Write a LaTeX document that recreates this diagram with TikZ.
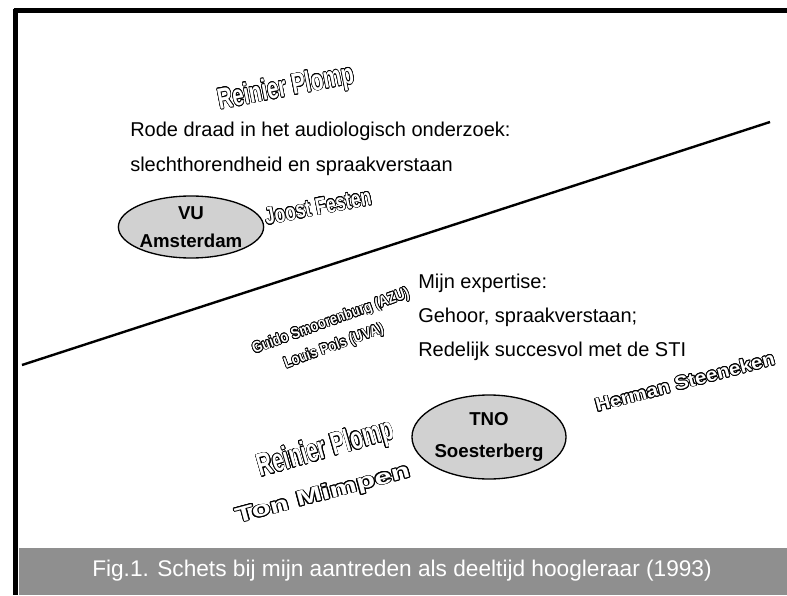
\documentclass[tikz,border=0pt]{standalone}
\usepackage{fontspec}
\setmainfont{Liberation Sans}
\usepackage{graphicx}
\usepackage[copies]{contour}
\contourlength{0.6pt}
\usetikzlibrary{shapes.geometric}

\definecolor{ellgrey}{gray}{0.82}
\definecolor{bargrey}{gray}{0.56}

\newcommand{\who}[2]{\scalebox{#1}[1]{\contour{black}{#2}}}

\tikzset{
  person/.style={text=white, inner sep=0pt},
  txt/.style={anchor=west, inner sep=0pt, font=\fontsize{15}{18}\selectfont},
  uni/.style={ellipse, draw, line width=1pt, fill=ellgrey, align=center,
    inner sep=0pt, font=\bfseries\fontsize{14}{21}\selectfont},
}

\begin{document}
\begin{tikzpicture}[x=0.75pt, y=-0.75pt]
  \useasboundingbox (0,0) rectangle (787,595);
  % frame and caption bar
  \fill[bargrey] (19,548) rectangle (787,595);
  \draw[line width=3.75pt] (15.5,8.6) -- (15.5,595);
  \draw[line width=3.75pt] (13.6,10.5) -- (787,10.5);
  \node[text=white, font=\fontsize{17}{20}\selectfont] (caption) at (402,571)
    {Fig.1. Schets bij mijn aantreden als deeltijd hoogleraar (1993)};

  % the dividing line
  \coordinate (lineL) at (22,365);
  \coordinate (lineR) at (770,122);
  \draw[line width=1.8pt] (lineL) -- (lineR);

  % upper part
  \node[person, rotate=11, font=\bfseries\fontsize{22}{24}\selectfont] (plompTop) at (286,89) {\who{0.7}{Reinier Plomp}};
  \node[txt] (rodeDraad) at (130,131) {Rode draad in het audiologisch onderzoek:};
  \node[txt] (slecht) at (130,166) {slechthorendheid en spraakverstaan};
  \node[uni, minimum width=107pt, minimum height=46.5pt] (vu) at (191,227) {VU\\Amsterdam};
  \node[person, rotate=11, font=\bfseries\fontsize{18}{20}\selectfont] (festen) at (318,207) {\who{0.73}{Joost Festen}};

  % expertise
  \node[txt] (expertise) at (418,283) {Mijn expertise:};
  \node[txt] (gehoor) at (418,317) {Gehoor, spraakverstaan;};
  \node[txt] (redelijk) at (418,351) {Redelijk succesvol met de STI};
  \node[person, rotate=20, font=\bfseries\fontsize{11.5}{13}\selectfont] (guido) at (331,322) {\who{0.85}{Guido Smoorenburg (AZU)}};
  \node[person, rotate=20, font=\bfseries\fontsize{11.5}{13}\selectfont] (pols) at (334,347) {\who{0.85}{Louis Pols (UVA)}};

  % lower part
  \node[uni, minimum width=108pt, minimum height=63pt] (tno) at (489,437) {TNO\\[3pt]Soesterberg};
  \node[person, rotate=16, font=\bfseries\fontsize{24}{26}\selectfont] (plompLow) at (326,450) {\who{0.65}{Reinier Plomp}};
  \node[person, rotate=15, font=\bfseries\fontsize{16}{18}\selectfont] (mimpen) at (323,495) {\who{1.45}{Ton Mimpen}};
  \node[person, rotate=15, font=\bfseries\fontsize{14}{16}\selectfont] (steeneken) at (685,382) {\who{1.1}{Herman Steeneken}};
\end{tikzpicture}
\end{document}
